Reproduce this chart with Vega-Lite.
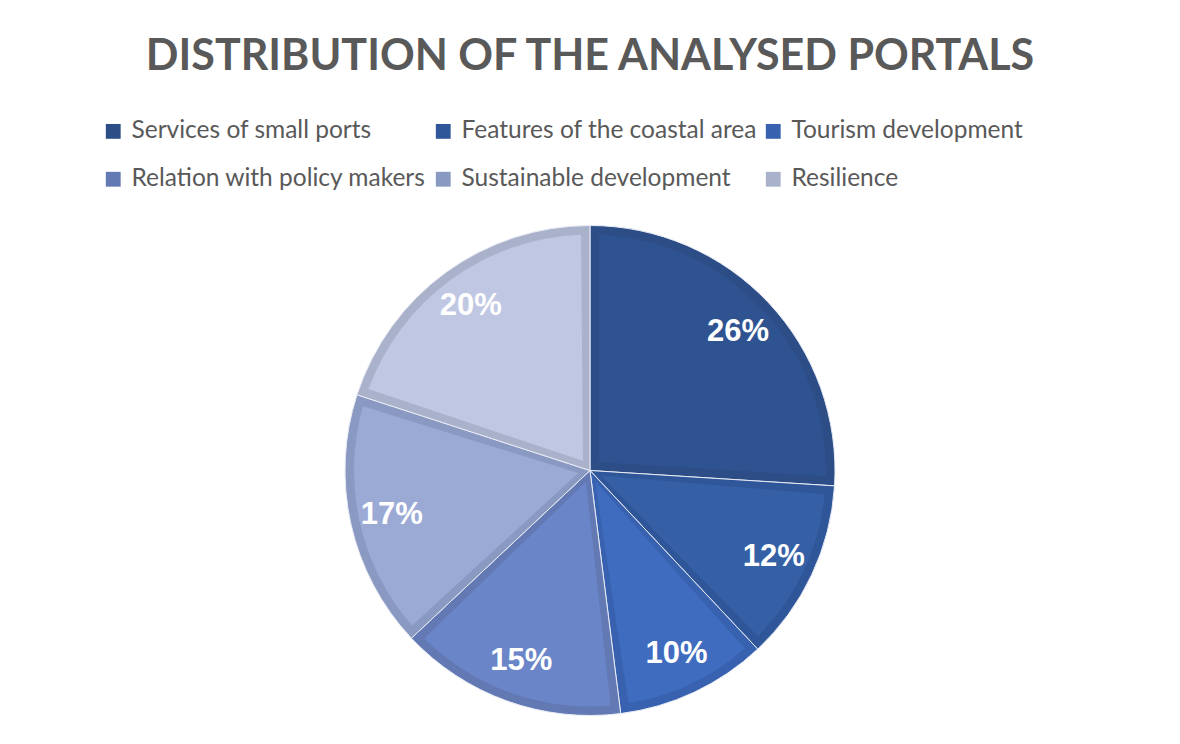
{
  "$schema": "https://vega.github.io/schema/vega-lite/v6.json",
  "width": 1180,
  "height": 744,
  "autosize": {"type": "fit", "contains": "padding"},
  "padding": {"top": 36, "left": 0, "right": 0, "bottom": 4},
  "background": "white",
  "title": {
    "text": "DISTRIBUTION OF THE ANALYSED PORTALS",
    "font": "Lato",
    "fontSize": 43,
    "fontWeight": "bold",
    "color": "#595959",
    "anchor": "middle",
    "offset": 122
  },
  "config": {
    "view": {"stroke": null}
  },
  "data": {
    "values": [
      {"category": "Services of small ports", "share": 26, "label": "26%", "order": 1},
      {"category": "Features of the coastal area", "share": 12, "label": "12%", "order": 2},
      {"category": "Tourism development", "share": 10, "label": "10%", "order": 3},
      {"category": "Relation with policy makers", "share": 15, "label": "15%", "order": 4},
      {"category": "Sustainable development", "share": 17, "label": "17%", "order": 5},
      {"category": "Resilience", "share": 20, "label": "20%", "order": 6}
    ]
  },
  "encoding": {
    "theta": {"field": "share", "type": "quantitative", "stack": true},
    "order": {"field": "order", "type": "quantitative"}
  },
  "layer": [
    {
      "mark": {"type": "arc", "outerRadius": 245, "stroke": "#e8ebf4", "strokeWidth": 1},
      "encoding": {
        "color": {
          "field": "category",
          "type": "nominal",
          "sort": ["Services of small ports", "Features of the coastal area", "Tourism development", "Relation with policy makers", "Sustainable development", "Resilience"],
          "scale": {
            "domain": ["Services of small ports", "Features of the coastal area", "Tourism development", "Relation with policy makers", "Sustainable development", "Resilience"],
            "range": ["#2C4D86", "#30569A", "#3862AF", "#6279B4", "#8A99C2", "#AAB2CB"]
          },
          "legend": {
            "title": null,
            "orient": "none",
            "legendX": 101,
            "legendY": -82,
            "direction": "horizontal",
            "columns": 3,
            "gridAlign": "all",
            "symbolType": "square",
            "symbolSize": 220,
            "symbolStrokeWidth": 0,
            "labelFont": "Lato",
            "labelFontSize": 24.5,
            "labelColor": "#595959",
            "labelOffset": 6,
            "columnPadding": 4,
            "rowPadding": 23,
            "labelLimit": 400
          }
        }
      }
    },
    {
      "mark": {"type": "arc", "outerRadius": 236, "innerRadius": 12, "padAngle": 0.076},
      "encoding": {
        "fill": {
          "field": "category",
          "type": "nominal",
          "scale": {
            "domain": ["Services of small ports", "Features of the coastal area", "Tourism development", "Relation with policy makers", "Sustainable development", "Resilience"],
            "range": ["#2F5390", "#3560A6", "#3F6CBF", "#6A86C8", "#9BAAD5", "#C0C7E3"]
          },
          "legend": null
        }
      }
    },
    {
      "mark": {"type": "text", "radius": 203, "font": "Liberation Sans", "fontSize": 31, "fontWeight": "bold", "fill": "white"},
      "encoding": {
        "text": {"field": "label", "type": "nominal"}
      }
    }
  ]
}
